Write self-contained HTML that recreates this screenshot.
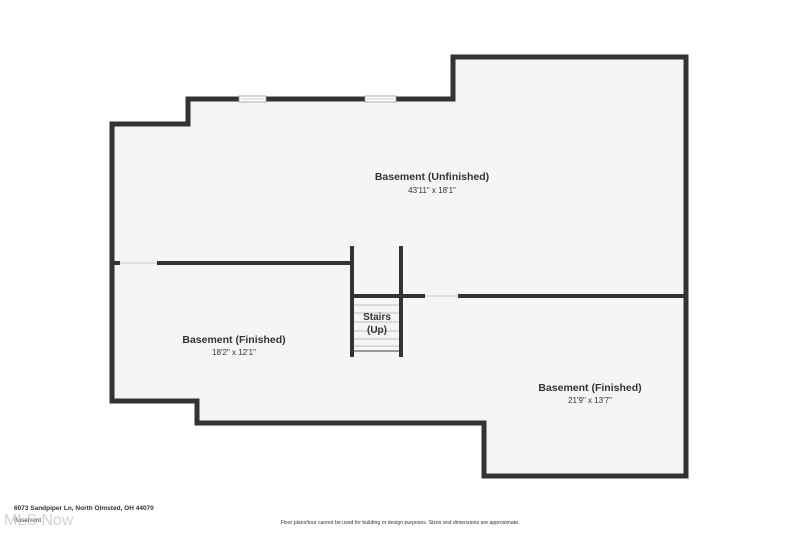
<!DOCTYPE html>
<html><head><meta charset="utf-8"><style>
html,body{margin:0;padding:0;background:#fff;}
svg{display:block;}
text{font-family:"Liberation Sans",sans-serif;fill:#333;}
</style></head><body>
<svg width="800" height="534" viewBox="0 0 800 534" xmlns="http://www.w3.org/2000/svg">
<path d="M112,124 H188 V99 H453 V57 H686 V476 H484 V423 H197 V401 H112 Z" fill="#f5f5f5" stroke="#333" stroke-width="5" stroke-linejoin="miter"/>
<rect x="239" y="96" width="27" height="6" fill="#fff" stroke="#999" stroke-width="0.8"/>
<line x1="241" y1="99" x2="264" y2="99" stroke="#bbb" stroke-width="0.8"/>
<rect x="365" y="96" width="31" height="6" fill="#fff" stroke="#999" stroke-width="0.8"/>
<line x1="367" y1="99" x2="394" y2="99" stroke="#bbb" stroke-width="0.8"/>
<line x1="112" y1="263" x2="120" y2="263" stroke="#333" stroke-width="4"/>
<line x1="157" y1="263" x2="354" y2="263" stroke="#333" stroke-width="4"/>
<line x1="120" y1="263" x2="157" y2="263" stroke="#ccc" stroke-width="1"/>
<line x1="352" y1="246" x2="352" y2="357" stroke="#333" stroke-width="4"/>
<line x1="401" y1="246" x2="401" y2="357" stroke="#333" stroke-width="4"/>
<line x1="352" y1="296" x2="425" y2="296" stroke="#333" stroke-width="4"/>
<line x1="458" y1="296" x2="686" y2="296" stroke="#333" stroke-width="4"/>
<line x1="425" y1="296" x2="458" y2="296" stroke="#ccc" stroke-width="1"/>
<g stroke="#aaa" stroke-width="0.8">
<line x1="354" y1="305" x2="399" y2="305"/>
<line x1="354" y1="313" x2="399" y2="313"/>
<line x1="354" y1="322" x2="399" y2="322"/>
<line x1="354" y1="331" x2="399" y2="331"/>
<line x1="354" y1="339" x2="399" y2="339"/>
<line x1="354" y1="346" x2="399" y2="346"/>
</g>
<line x1="354" y1="351" x2="399" y2="351" stroke="#666" stroke-width="1.2"/>
<text x="432" y="180" font-size="10.5" font-weight="bold" text-anchor="middle">Basement (Unfinished)</text>
<text x="432" y="193" font-size="8" text-anchor="middle">43'11" x 18'1"</text>
<text x="377" y="320" font-size="10" font-weight="bold" text-anchor="middle">Stairs</text>
<text x="377" y="333" font-size="10" font-weight="bold" text-anchor="middle">(Up)</text>
<text x="234" y="343" font-size="10.5" font-weight="bold" text-anchor="middle">Basement (Finished)</text>
<text x="234" y="355" font-size="8" text-anchor="middle">18'2" x 12'1"</text>
<text x="590" y="391" font-size="10.5" font-weight="bold" text-anchor="middle">Basement (Finished)</text>
<text x="590" y="403" font-size="8" text-anchor="middle">21'9" x 13'7"</text>
<text x="14" y="510" font-size="6.5" font-weight="bold">6073 Sandpiper Ln, North Olmsted, OH 44070</text>
<text x="14" y="522" font-size="6">Basement</text>
<text x="4" y="525" font-size="16" style="fill:#ccc;opacity:0.85">MLS Now</text>
<text x="400" y="524" font-size="5.2" text-anchor="middle">Floor plans/tour cannot be used for building or design purposes. Sizes and dimensions are approximate.</text>
</svg>
</body></html>
